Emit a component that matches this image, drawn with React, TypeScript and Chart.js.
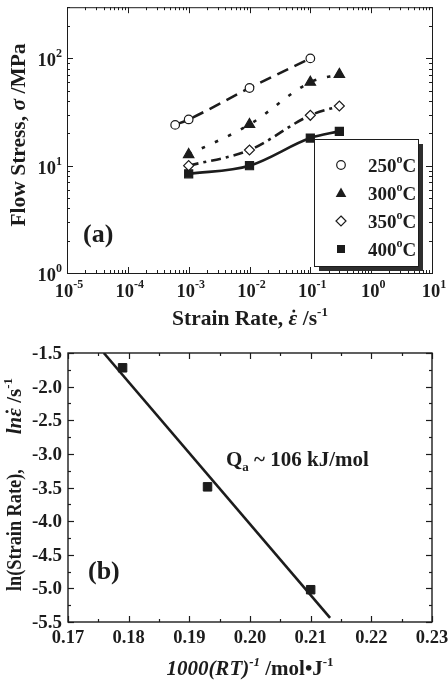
import React, { useEffect, useRef } from "react";
import { Chart, registerables } from "chart.js";

Chart.register(...registerables);

// ---- (a) flow stress vs strain rate ----
const rate250 = [6e-4, 1e-3, 1e-2, 1e-1];
const stress250 = [24, 27, 53, 100];
const rate300 = [1e-3, 1e-2, 1e-1, 0.3];
const stress300 = [12.7, 24.2, 60, 71];
const rate350 = [1e-3, 1e-2, 1e-1, 0.3];
const stress350 = [10, 14, 29.5, 36];
const rate400 = [1e-3, 1e-2, 1e-1, 0.3];
const stress400 = [8.4, 10, 18.1, 20.9];
const tempLabels = ["250", "300", "350", "400"];
const xDecades = [-5, -4, -3, -2, -1, 0, 1];
const yDecades = [0, 1, 2];

// ---- (b) Arrhenius plot ----
const invRT = [0.179, 0.193, 0.21];
const lnRate = [-1.72, -3.49, -5.02];
const fitInvRT = [0.1759, 0.2132];
const fitLnRate = [-1.5, -5.44];
const xTicksB = [0.17, 0.18, 0.19, 0.2, 0.21, 0.22, 0.23];
const yTicksB = [-1.5, -2.0, -2.5, -3.0, -3.5, -4.0, -4.5, -5.0, -5.5];

const SERIF = '"Liberation Serif", "DejaVu Serif", serif';
const INK = "#1c1c1c";
const f = (size: number, style = "") => `${style} bold ${size}px ${SERIF}`.trim();

// a run of text; `dot` puts an overdot above the glyph (rate symbol),
// `gap` adds space after it, `sx` condenses it horizontally
type Run = { t: string; f: string; dy?: number; dot?: number; gap?: number; sx?: number };

function drawRich(
  ctx: CanvasRenderingContext2D,
  runs: Run[],
  x: number,
  y: number,
  align: "left" | "center" | "right"
) {
  let w = 0;
  for (const r of runs) {
    ctx.font = r.f;
    w += ctx.measureText(r.t).width * (r.sx || 1) + (r.gap || 0);
  }
  let cx = align === "left" ? x : align === "center" ? x - w / 2 : x - w;
  ctx.textAlign = "left";
  ctx.textBaseline = "alphabetic";
  for (const r of runs) {
    ctx.font = r.f;
    const sx = r.sx || 1;
    const rw = ctx.measureText(r.t).width * sx;
    ctx.save();
    ctx.translate(cx, y + (r.dy || 0));
    ctx.scale(sx, 1);
    ctx.fillText(r.t, 0, 0);
    ctx.restore();
    if (r.dot) {
      ctx.beginPath();
      ctx.arc(cx + rw * 0.6, y - r.dot, 1.5, 0, Math.PI * 2);
      ctx.fill();
    }
    cx += rw + (r.gap || 0);
  }
}

function tick(ctx: CanvasRenderingContext2D, x1: number, y1: number, x2: number, y2: number) {
  ctx.beginPath();
  ctx.moveTo(x1, y1);
  ctx.lineTo(x2, y2);
  ctx.stroke();
}

const pts = (xs: number[], ys: number[]) => xs.map((x, i) => ({ x, y: ys[i] }));

const topDecor = {
  id: "topDecor",
  afterDraw(chart: any) {
    const ctx: CanvasRenderingContext2D = chart.ctx;
    const ca = chart.chartArea;
    const xs = chart.scales.x;
    const ys = chart.scales.y;
    ctx.save();
    ctx.strokeStyle = INK;
    ctx.fillStyle = INK;
    ctx.lineWidth = 1;

    // log ticks on all four sides, pointing inward
    for (const d of xDecades) {
      for (let k = 1; k <= 9; k++) {
        const v = k * Math.pow(10, d);
        if (v > xs.max * 1.0001) break;
        const px = Math.round(xs.getPixelForValue(v)) + 0.5;
        const len = k === 1 ? 6 : 3;
        tick(ctx, px, ca.bottom, px, ca.bottom - len);
        tick(ctx, px, ca.top, px, ca.top + len);
      }
    }
    for (const d of yDecades) {
      for (let k = 1; k <= 9; k++) {
        const v = k * Math.pow(10, d);
        if (v > ys.max * 1.0001) break;
        const py = Math.round(ys.getPixelForValue(v)) + 0.5;
        const len = k === 1 ? 6 : 3;
        tick(ctx, ca.left, py, ca.left + len, py);
        tick(ctx, ca.right, py, ca.right - len, py);
      }
    }
    ctx.strokeRect(ca.left + 0.5, ca.top + 0.5, ca.right - ca.left, ca.bottom - ca.top);

    // tick labels
    for (const d of xDecades) {
      const px = xs.getPixelForValue(Math.pow(10, d));
      drawRich(ctx, [{ t: "10", f: f(18.5) }, { t: String(d), f: f(12), dy: -9 }], px + 2, 297, "center");
    }
    for (const d of yDecades) {
      const py = ys.getPixelForValue(Math.pow(10, d));
      drawRich(ctx, [{ t: "10", f: f(18.5) }, { t: String(d), f: f(12), dy: -9 }], 62, py + 8, "right");
    }

    // axis titles
    drawRich(
      ctx,
      [
        { t: "Strain Rate, ", f: f(21.5) },
        { t: "ε", f: f(21.5, "italic"), dot: 14 },
        { t: " /s", f: f(21.5) },
        { t: "-1", f: f(13), dy: -9 },
      ],
      250,
      325,
      "center"
    );
    ctx.save();
    ctx.translate(25, 135);
    ctx.rotate(-Math.PI / 2);
    drawRich(
      ctx,
      [
        { t: "Flow Stress, ", f: f(21.5) },
        { t: "σ", f: f(21.5, "italic") },
        { t: " /MPa", f: f(21.5) },
      ],
      0,
      0,
      "center"
    );
    ctx.restore();

    // panel label
    drawRich(ctx, [{ t: "(a)", f: f(26) }], 83, 242, "left");

    // legend with drop shadow
    const bx = 314, by = 139, bw = 104, bh = 127;
    ctx.fillStyle = "#2e2e2e";
    ctx.fillRect(bx + 5, by + 5, bw, bh);
    ctx.fillStyle = "#ffffff";
    ctx.fillRect(bx, by, bw, bh);
    ctx.strokeStyle = INK;
    ctx.lineWidth = 1;
    ctx.strokeRect(bx + 0.5, by + 0.5, bw, bh);
    const rows = [165, 193, 221, 249];
    const mx = 341;
    ctx.lineWidth = 1.2;
    rows.forEach((ry, i) => {
      ctx.beginPath();
      if (i === 0) {
        ctx.arc(mx, ry, 4.3, 0, Math.PI * 2);
        ctx.fillStyle = "#fff";
        ctx.fill();
        ctx.stroke();
      } else if (i === 1) {
        ctx.moveTo(mx, ry - 5.5);
        ctx.lineTo(mx + 5.3, ry + 4);
        ctx.lineTo(mx - 5.3, ry + 4);
        ctx.closePath();
        ctx.fillStyle = INK;
        ctx.fill();
      } else if (i === 2) {
        ctx.moveTo(mx, ry - 5);
        ctx.lineTo(mx + 5, ry);
        ctx.lineTo(mx, ry + 5);
        ctx.lineTo(mx - 5, ry);
        ctx.closePath();
        ctx.fillStyle = "#fff";
        ctx.fill();
        ctx.stroke();
      } else {
        ctx.rect(mx - 4, ry - 4, 8, 8);
        ctx.fillStyle = INK;
        ctx.fill();
      }
      ctx.fillStyle = INK;
      drawRich(
        ctx,
        [
          { t: tempLabels[i], f: f(19) },
          { t: "o", f: f(12), dy: -9 },
          { t: "C", f: f(19) },
        ],
        368,
        ry + 7,
        "left"
      );
    });
    ctx.restore();
  },
};

const bottomDecor = {
  id: "bottomDecor",
  afterDraw(chart: any) {
    const ctx: CanvasRenderingContext2D = chart.ctx;
    const ca = chart.chartArea;
    const xs = chart.scales.x;
    const ys = chart.scales.y;
    ctx.save();
    ctx.strokeStyle = INK;
    ctx.fillStyle = INK;
    ctx.lineWidth = 1.2;

    // major and minor ticks, inward on all sides
    for (let i = 0; i < xTicksB.length; i++) {
      const v = xTicksB[i];
      const px = Math.round(xs.getPixelForValue(v)) + 0.5;
      tick(ctx, px, ca.bottom, px, ca.bottom - 6);
      tick(ctx, px, ca.top, px, ca.top + 6);
      if (i < xTicksB.length - 1) {
        const pm = Math.round(xs.getPixelForValue((v + xTicksB[i + 1]) / 2)) + 0.5;
        tick(ctx, pm, ca.bottom, pm, ca.bottom - 3);
        tick(ctx, pm, ca.top, pm, ca.top + 3);
      }
    }
    for (let i = 0; i < yTicksB.length; i++) {
      const v = yTicksB[i];
      const py = Math.round(ys.getPixelForValue(v)) + 0.5;
      tick(ctx, ca.left, py, ca.left + 6, py);
      tick(ctx, ca.right, py, ca.right - 6, py);
      if (i < yTicksB.length - 1) {
        const pm = Math.round(ys.getPixelForValue((v + yTicksB[i + 1]) / 2)) + 0.5;
        tick(ctx, ca.left, pm, ca.left + 3, pm);
        tick(ctx, ca.right, pm, ca.right - 3, pm);
      }
    }
    ctx.lineWidth = 1.4;
    ctx.strokeRect(ca.left, ca.top, ca.right - ca.left, ca.bottom - ca.top);

    for (const v of xTicksB) {
      drawRich(ctx, [{ t: v.toFixed(2), f: f(18.5) }], xs.getPixelForValue(v), 313, "center");
    }
    for (const v of yTicksB) {
      drawRich(ctx, [{ t: v.toFixed(1), f: f(19) }], 62, ys.getPixelForValue(v) + 6, "right");
    }

    drawRich(
      ctx,
      [
        { t: "1000(RT)", f: f(21, "italic") },
        { t: "-1", f: f(13, "italic"), dy: -9 },
        { t: " /mol\u2022J", f: f(21) },
        { t: "-1", f: f(13), dy: -9 },
      ],
      250,
      345,
      "center"
    );
    ctx.save();
    ctx.translate(21, 154.5);
    ctx.rotate(-Math.PI / 2);
    drawRich(
      ctx,
      [
        { t: "ln(Strain Rate),", f: f(21), gap: 35, sx: 0.87 },
        { t: "ln", f: f(21, "italic") },
        { t: "ε", f: f(21, "italic"), dot: 14 },
        { t: " /s", f: f(21) },
        { t: "-1", f: f(13), dy: -9 },
      ],
      0,
      0,
      "center"
    );
    ctx.restore();

    drawRich(
      ctx,
      [
        { t: "Q", f: f(21) },
        { t: "a", f: f(13), dy: 5 },
        { t: " ~ 106 kJ/mol", f: f(21) },
      ],
      226,
      136,
      "left"
    );
    drawRich(ctx, [{ t: "(b)", f: f(26) }], 88, 249, "left");
    ctx.restore();
  },
};

export default function App() {
  const topRef = useRef<HTMLCanvasElement>(null);
  const botRef = useRef<HTMLCanvasElement>(null);

  useEffect(() => {
    document.body.style.margin = "0";
    const common = {
      borderColor: INK,
      pointBorderColor: INK,
      pointBorderWidth: 1.2,
      borderWidth: 2.6,
      cubicInterpolationMode: "monotone" as const,
      fill: false,
    };
    const top = new Chart(topRef.current!, {
      type: "line",
      data: {
        datasets: [
          {
            ...common,
            label: "250",
            data: pts(rate250, stress250),
            borderDash: [12, 7],
            pointStyle: "circle",
            pointRadius: 4.3,
            pointBackgroundColor: "#fff",
          },
          {
            ...common,
            label: "300",
            data: pts(rate300, stress300),
            borderDash: [3.5, 11],
            pointStyle: "triangle",
            pointRadius: 6,
            pointBackgroundColor: INK,
          },
          {
            ...common,
            label: "350",
            data: pts(rate350, stress350),
            borderDash: [10, 5, 3, 5],
            pointStyle: "rectRot",
            pointRadius: 5,
            pointBackgroundColor: "#fff",
          },
          {
            ...common,
            label: "400",
            data: pts(rate400, stress400),
            pointStyle: "rect",
            pointRadius: 5.7,
            pointBackgroundColor: INK,
          },
        ],
      },
      options: {
        animation: false,
        responsive: false,
        events: [],
        layout: { padding: { left: 67, right: 16, top: 4, bottom: 57 } },
        scales: {
          x: { type: "logarithmic", min: 1e-5, max: 10, display: false },
          y: { type: "logarithmic", min: 1, max: 300, display: false },
        },
        plugins: { legend: { display: false }, tooltip: { enabled: false } },
      },
      plugins: [topDecor],
    });

    const bottom = new Chart(botRef.current!, {
      type: "scatter",
      data: {
        datasets: [
          {
            label: "fit",
            type: "line",
            data: pts(fitInvRT, fitLnRate),
            borderColor: INK,
            borderWidth: 2.6,
            pointRadius: 0,
            fill: false,
          },
          {
            label: "data",
            data: pts(invRT, lnRate),
            pointStyle: "rect",
            pointRadius: 6,
            pointBackgroundColor: INK,
            pointBorderColor: INK,
            pointBorderWidth: 1,
          },
        ],
      },
      options: {
        animation: false,
        responsive: false,
        events: [],
        layout: { padding: { left: 68, right: 16, top: 23, bottom: 64 } },
        scales: {
          x: { type: "linear", min: 0.17, max: 0.23, display: false },
          y: { type: "linear", min: -5.5, max: -1.5, display: false },
        },
        plugins: { legend: { display: false }, tooltip: { enabled: false } },
      },
      plugins: [bottomDecor],
    });

    return () => {
      top.destroy();
      bottom.destroy();
    };
  }, []);

  return (
    <div style={{ position: "absolute", left: 0, top: 0, width: 448, background: "#fff" }}>
      <canvas ref={topRef} width={448} height={330} style={{ display: "block" }} />
      <canvas ref={botRef} width={448} height={356} style={{ display: "block" }} />
    </div>
  );
}
